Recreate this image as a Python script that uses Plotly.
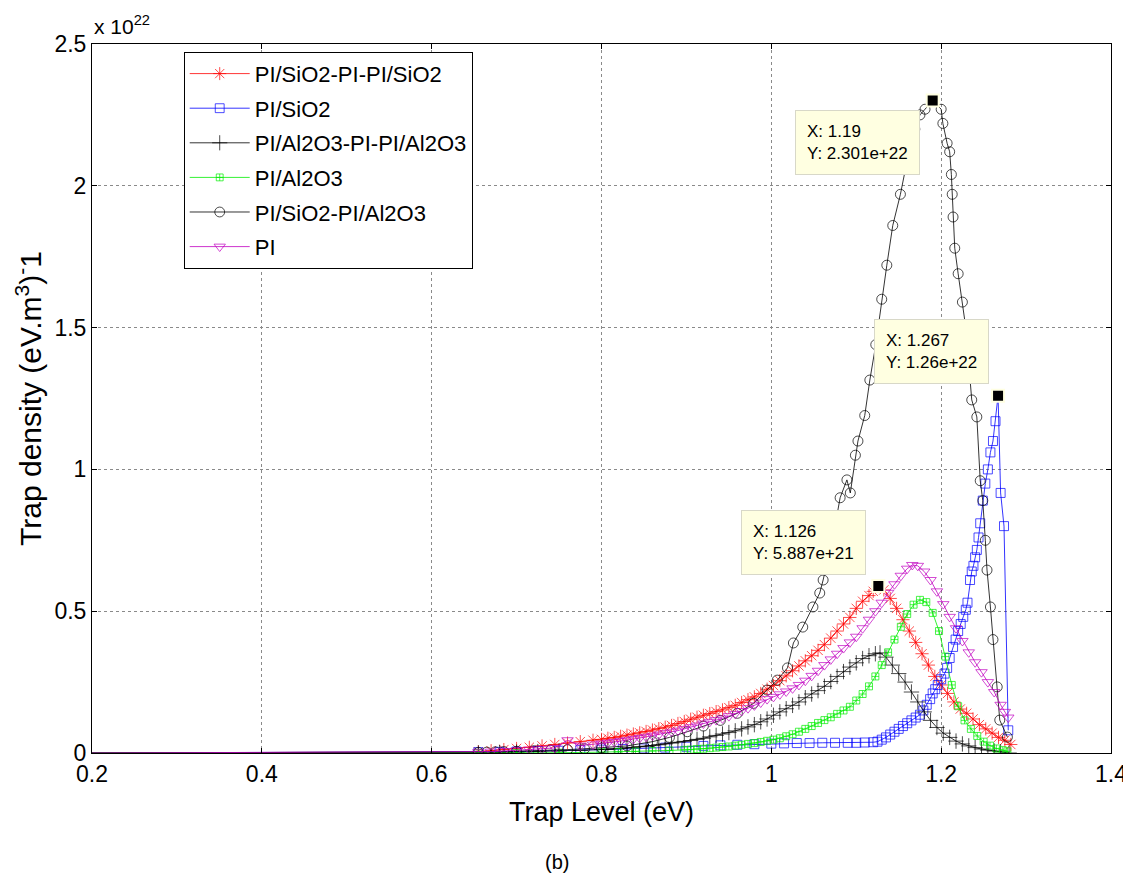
import plotly.graph_objects as go

# ---------------- data (trap density in units of 1e22 (eV.m^3)^-1) ----------------
series_names = ["PI/SiO2-PI-PI/SiO2", "PI/SiO2", "PI/Al2O3-PI-PI/Al2O3",
                "PI/Al2O3", "PI/SiO2-PI/Al2O3", "PI"]

red_x = [0.2, 0.655, 0.67, 0.685, 0.70, 0.715, 0.73, 0.745, 0.76, 0.775, 0.79, 0.80, 0.8075,
         0.815, 0.8225, 0.83, 0.8375, 0.845, 0.8525, 0.86, 0.8675, 0.875, 0.8825, 0.89, 0.8975,
         0.905, 0.9125, 0.92, 0.9275, 0.935, 0.9425, 0.95, 0.9575, 0.965, 0.9725, 0.98, 0.9875,
         0.995, 1.0025, 1.01, 1.0175, 1.025, 1.0325, 1.04, 1.0475, 1.055, 1.0625, 1.07, 1.0775,
         1.085, 1.0925, 1.10, 1.1075, 1.115, 1.12, 1.126, 1.1325, 1.14, 1.1475, 1.155, 1.1625,
         1.17, 1.1775, 1.185, 1.1925, 1.20, 1.2075, 1.215, 1.2225, 1.23, 1.2375, 1.245, 1.2525,
         1.26, 1.2675, 1.275, 1.282]
red_y = [0, 0.004, 0.008, 0.012, 0.016, 0.02, 0.025, 0.03, 0.035, 0.04, 0.045, 0.048, 0.052,
         0.055, 0.059, 0.063, 0.067, 0.071, 0.076, 0.081, 0.086, 0.091, 0.097, 0.104, 0.111,
         0.119, 0.126, 0.133, 0.139, 0.146, 0.152, 0.16, 0.168, 0.178, 0.188, 0.198, 0.21,
         0.225, 0.238, 0.255, 0.272, 0.29, 0.307, 0.325, 0.343, 0.362, 0.382, 0.405, 0.43,
         0.455, 0.478, 0.51, 0.535, 0.555, 0.57, 0.5887, 0.575, 0.545, 0.51, 0.47, 0.43,
         0.39, 0.35, 0.31, 0.27, 0.24, 0.21, 0.18, 0.155, 0.14, 0.12, 0.10, 0.085,
         0.07, 0.055, 0.045, 0.03]

blue_x = [0.2, 0.655, 0.68, 0.70, 0.725, 0.75, 0.775, 0.80, 0.825, 0.85, 0.875, 0.90, 0.92, 0.94,
          0.96, 0.98, 1.0, 1.015, 1.03, 1.045, 1.06, 1.075, 1.09, 1.10, 1.11, 1.12, 1.125, 1.13,
          1.135, 1.14, 1.145, 1.15, 1.155, 1.16, 1.165, 1.17, 1.175, 1.179, 1.183, 1.187, 1.19,
          1.193, 1.196, 1.2, 1.204, 1.207, 1.21, 1.214, 1.217, 1.22, 1.223, 1.226, 1.229, 1.231,
          1.234, 1.236, 1.238, 1.24, 1.242, 1.244, 1.246, 1.249, 1.252, 1.255, 1.258, 1.261,
          1.264, 1.267, 1.27, 1.274, 1.279]
blue_y = [0, 0.003, 0.004, 0.005, 0.007, 0.008, 0.01, 0.012, 0.014, 0.016, 0.019, 0.022, 0.025,
          0.027, 0.029, 0.031, 0.033, 0.034, 0.035, 0.035, 0.036, 0.036, 0.036, 0.036, 0.037,
          0.038, 0.04, 0.047, 0.055, 0.065, 0.075, 0.085, 0.095, 0.105, 0.115, 0.125, 0.135,
          0.15, 0.17, 0.19, 0.21, 0.225, 0.24, 0.26, 0.28, 0.30, 0.335, 0.374, 0.40, 0.43,
          0.455, 0.48, 0.505, 0.53, 0.61, 0.64, 0.66, 0.69, 0.716, 0.76, 0.81, 0.89, 0.95,
          1.0, 1.06, 1.10, 1.17, 1.26, 0.917, 0.80, 0.08]

plus_x = [0.2, 0.655, 0.68, 0.70, 0.725, 0.75, 0.775, 0.80, 0.8075, 0.815, 0.8225, 0.83, 0.8375,
          0.845, 0.8525, 0.86, 0.8675, 0.875, 0.8825, 0.89, 0.8975, 0.905, 0.9125, 0.92, 0.9275,
          0.935, 0.9425, 0.95, 0.9575, 0.965, 0.9725, 0.98, 0.9875, 0.995, 1.0025, 1.01, 1.0175,
          1.025, 1.0325, 1.04, 1.0475, 1.055, 1.0625, 1.07, 1.0775, 1.085, 1.0925, 1.10, 1.1075,
          1.115, 1.1225, 1.128, 1.135, 1.1425, 1.15, 1.1575, 1.165, 1.1725, 1.18, 1.1875, 1.195,
          1.2025, 1.21, 1.2175, 1.225, 1.2325, 1.24, 1.2475, 1.255, 1.2625, 1.27, 1.28]
plus_y = [0, 0.0, 0.002, 0.003, 0.005, 0.007, 0.009, 0.012, 0.013, 0.015, 0.016, 0.018, 0.02,
          0.022, 0.024, 0.026, 0.029, 0.032, 0.035, 0.038, 0.041, 0.044, 0.048, 0.052, 0.057,
          0.062, 0.067, 0.072, 0.078, 0.085, 0.092, 0.10, 0.11, 0.12, 0.133, 0.145, 0.156,
          0.168, 0.18, 0.195, 0.208, 0.22, 0.235, 0.252, 0.27, 0.287, 0.303, 0.318, 0.333,
          0.343, 0.35, 0.353, 0.338, 0.31, 0.28, 0.25, 0.215, 0.18, 0.145, 0.115, 0.09,
          0.07, 0.055, 0.042, 0.032, 0.025, 0.019, 0.014, 0.01, 0.007, 0.004, 0.0]

green_x = [0.2, 0.655, 0.70, 0.75, 0.80, 0.82, 0.84, 0.86, 0.88, 0.8975, 0.905, 0.9125, 0.92,
           0.9275, 0.935, 0.9425, 0.95, 0.9575, 0.965, 0.9725, 0.98, 0.9875, 0.995, 1.0025, 1.01,
           1.0175, 1.025, 1.0325, 1.04, 1.0475, 1.055, 1.0625, 1.07, 1.0775, 1.085, 1.0925, 1.10,
           1.1075, 1.115, 1.1225, 1.13, 1.1375, 1.145, 1.1525, 1.16, 1.1675, 1.175, 1.1825, 1.19,
           1.1975, 1.205, 1.2125, 1.22, 1.2275, 1.235, 1.2425, 1.25, 1.2575, 1.265, 1.2725, 1.278]
green_y = [0, 0.0, 0.0, 0.001, 0.003, 0.004, 0.005, 0.007, 0.009, 0.011, 0.012, 0.014, 0.015,
           0.017, 0.019, 0.021, 0.023, 0.026, 0.029, 0.032, 0.035, 0.039, 0.043, 0.047, 0.052,
           0.059, 0.066, 0.075, 0.085, 0.095, 0.106, 0.116, 0.126, 0.138, 0.15, 0.163, 0.185,
           0.208, 0.235, 0.27, 0.31, 0.355, 0.40, 0.445, 0.49, 0.523, 0.54, 0.532, 0.494,
           0.43, 0.34, 0.24, 0.165, 0.115, 0.085, 0.06, 0.04, 0.026, 0.016, 0.01, 0.006]

circ_x = [0.2, 0.655, 0.665, 0.675, 0.685, 0.70, 0.72, 0.74, 0.76, 0.78, 0.80, 0.83, 0.86, 0.88,
          0.901, 0.92, 0.94, 0.96, 0.979, 0.995, 1.007, 1.019, 1.026, 1.037, 1.049, 1.057, 1.061,
          1.068, 1.075, 1.081, 1.089, 1.093, 1.099, 1.102, 1.11, 1.116, 1.123, 1.13, 1.136, 1.143,
          1.152, 1.158, 1.163, 1.169, 1.175, 1.181, 1.19, 1.20, 1.202, 1.207, 1.21, 1.212, 1.213,
          1.214, 1.216, 1.22, 1.225, 1.229, 1.236, 1.242, 1.246, 1.249, 1.252, 1.254, 1.258,
          1.261, 1.266, 1.269, 1.278]
circ_y = [0, 0.002, 0.003, 0.004, 0.005, 0.006, 0.008, 0.01, 0.012, 0.015, 0.018, 0.025, 0.04,
          0.055, 0.075, 0.095, 0.115, 0.14, 0.175, 0.222, 0.257, 0.30, 0.388, 0.444, 0.515, 0.564,
          0.61, 0.70, 0.80, 0.90, 0.963, 0.917, 1.05, 1.10, 1.19, 1.315, 1.44, 1.60, 1.72, 1.86,
          1.97, 2.06, 2.13, 2.20, 2.25, 2.27, 2.301, 2.27, 2.22, 2.15, 2.12, 2.04, 1.97,
          1.89, 1.78, 1.69, 1.59, 1.50, 1.245, 1.185, 0.96, 0.89, 0.75, 0.645, 0.515,
          0.40, 0.233, 0.116, 0.056]

pi_x = [0.2, 0.655, 0.67, 0.685, 0.70, 0.715, 0.73, 0.745, 0.76, 0.775, 0.79, 0.80, 0.8075, 0.815,
        0.8225, 0.83, 0.8375, 0.845, 0.8525, 0.86, 0.8675, 0.875, 0.8825, 0.89, 0.8975, 0.905,
        0.9125, 0.92, 0.9275, 0.935, 0.9425, 0.95, 0.9575, 0.965, 0.9725, 0.98, 0.9875, 0.995,
        1.0025, 1.01, 1.0175, 1.025, 1.0325, 1.04, 1.0475, 1.055, 1.0625, 1.07, 1.0775, 1.085,
        1.0925, 1.10, 1.1075, 1.115, 1.1225, 1.13, 1.1375, 1.145, 1.1525, 1.16, 1.166, 1.1725,
        1.18, 1.1875, 1.195, 1.2025, 1.21, 1.2175, 1.225, 1.2325, 1.24, 1.2475, 1.255, 1.2625,
        1.27, 1.275, 1.279]
pi_y = [0, 0.003, 0.005, 0.007, 0.009, 0.012, 0.015, 0.018, 0.045, 0.026, 0.03, 0.033, 0.036,
        0.039, 0.042, 0.045, 0.049, 0.053, 0.057, 0.061, 0.065, 0.07, 0.075, 0.079, 0.085, 0.091,
        0.097, 0.104, 0.11, 0.116, 0.122, 0.13, 0.138, 0.148, 0.158, 0.168, 0.178, 0.19,
        0.198, 0.207, 0.217, 0.228, 0.24, 0.255, 0.272, 0.29, 0.31, 0.33, 0.35, 0.37,
        0.39, 0.41, 0.44, 0.47, 0.50, 0.53, 0.565, 0.595, 0.625, 0.65, 0.663, 0.66,
        0.64, 0.61, 0.57, 0.525, 0.48, 0.44, 0.395, 0.355, 0.32, 0.285, 0.25, 0.215,
        0.17, 0.145, 0.125]

# data tips (X, Y)
tip_x = [1.19, 1.267, 1.126]
tip_y = [2.301e22, 1.26e22, 5.887e21]
y_scale = 1e22

x_ticks = [0.2, 0.4, 0.6, 0.8, 1.0, 1.2, 1.4]
x_tick_text = ["0.2", "0.4", "0.6", "0.8", "1", "1.2", "1.4"]
y_ticks = [0, 0.5, 1.0, 1.5, 2.0, 2.5]
y_tick_text = ["0", "0.5", "1", "1.5", "2", "2.5"]

# ---------------- figure ----------------
FONT = "Liberation Sans, Arial, sans-serif"
styles = [
    ("#FF0000", "asterisk-open", 11),
    ("#0000FF", "square-open", 9),
    ("#000000", "cross-thin-open", 11),
    ("#00EE00", "square-cross-open", 7),
    ("#000000", "circle-open", 10),
    ("#C000C0", "triangle-down-open", 10),
]
data = [(red_x, red_y), (blue_x, blue_y), (plus_x, plus_y),
        (green_x, green_y), (circ_x, circ_y), (pi_x, pi_y)]

fig = go.Figure()
for name, (xs, ys), (col, sym, sz) in zip(series_names, data, styles):
    assert len(xs) == len(ys), name
    sizes = [0] + [sz] * (len(xs) - 1)
    fig.add_trace(go.Scatter(
        x=xs, y=ys, name=name, mode="lines+markers", legendgroup=name,
        line=dict(color=col, width=0.8),
        marker=dict(symbol=sym, size=sizes, color=col, line=dict(color=col, width=1)),
    ))

fig.add_trace(go.Scatter(
    x=tip_x, y=[v / y_scale for v in tip_y], mode="markers", showlegend=False,
    marker=dict(symbol="square", size=12, color="black", line=dict(color="#FFFFE1", width=2)),
))

tip_layout = [  # (xanchor, yanchor, xshift, yshift)
    ("right", "top", -13, -10),
    ("right", "bottom", -9, 12),
    ("right", "bottom", -12, 11),
]
for tx, ty, (xa, ya, xs_, ys_) in zip(tip_x, tip_y, tip_layout):
    fig.add_annotation(
        x=tx, y=ty / y_scale, xref="x", yref="y", showarrow=False,
        xanchor=xa, yanchor=ya, xshift=xs_, yshift=ys_,
        text=f"X: {tx:g}<br>Y: {ty:.4g}",
        align="left", bgcolor="#FFFFE1", bordercolor="#D8D8C8", borderwidth=1, borderpad=11,
        font=dict(family=FONT, size=17, color="black"),
    )

fig.add_annotation(x=0, y=1, xref="paper", yref="paper", xanchor="left", yanchor="bottom",
                   yshift=4, showarrow=False, text="x 10<sup>22</sup>",
                   font=dict(family=FONT, size=21, color="black"))
fig.add_annotation(x=0.4565, y=-0.154, xref="paper", yref="paper", xanchor="center",
                   yanchor="middle", showarrow=False,
                   text="(b)", font=dict(family=FONT, size=20, color="black"))

axis_common = dict(showline=True, linecolor="black", linewidth=1, mirror="ticks",
                   ticks="inside", ticklen=5, tickcolor="black", automargin=False,
                   showgrid=True, gridcolor="#8a8a8a", griddash="dot", gridwidth=1,
                   zeroline=False, tickfont=dict(family=FONT, size=23, color="black"))

fig.update_xaxes(range=[0.2, 1.4], tickvals=x_ticks, ticktext=x_tick_text,
                 title=dict(text="Trap Level (eV)", font=dict(family=FONT, size=27, color="black"),
                            standoff=16),
                 **axis_common)
fig.update_yaxes(range=[0, 2.5], tickvals=y_ticks, ticktext=y_tick_text,
                 title=dict(text="Trap density (eV.m<sup>3</sup>)<sup>-</sup>1",
                            font=dict(family=FONT, size=30, color="black"), standoff=3),
                 **axis_common)

# page body adds an 8px offset; figure sized so the plot lands where the reference has it
fig.update_layout(
    width=1123, height=874,
    margin=dict(l=84, r=20, t=36, b=129),
    plot_bgcolor="white", paper_bgcolor="white",
    font=dict(family=FONT, color="black"),
    legend=dict(x=0.09, y=0.989, xanchor="left", yanchor="top",
                bgcolor="white", bordercolor="black", borderwidth=1,
                font=dict(family=FONT, size=22, color="black"),
                itemwidth=60, tracegroupgap=3),
)

fig.write_html("out.html")
